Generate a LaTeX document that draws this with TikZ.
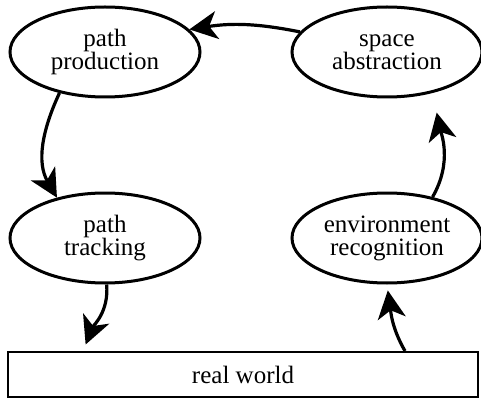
\documentclass[tikz,border=0pt]{standalone}
\usepackage{fontspec}
\setmainfont{Liberation Serif}
\usetikzlibrary{arrows.meta,shapes}

\begin{document}
\begin{tikzpicture}[node distance = 141pt, line width=1.5pt,
    every node/.style={font=\fontsize{12.5}{11.5}\selectfont, align=center},
    stage/.style={ellipse, draw=black, inner sep=0pt, minimum width=95pt, minimum height=45pt},
    flow/.style={-{Stealth[length=14pt, width=14pt, inset=4pt]}, line width=1.6pt}]
  \useasboundingbox (0,0) rectangle (240.5pt,201pt);
  \node[stage] (pp) at (52.5pt,175pt) {path\\production};
  \node[stage, right of=pp] (sa) {space\\abstraction};
  \node[stage, below of=pp, node distance=93pt] (pt) {path\\tracking};
  \node[stage, below of=sa, node distance=93pt] (er) {environment\\recognition};
  \node[rectangle, draw=black, line width=1pt, minimum width=235pt, minimum height=22.5pt, inner sep=0pt] (rw) at (121.5pt,13.75pt) {real world};

  % the loop
  \draw[flow] (sa.167) to[bend right=10] (pp.15);
  \draw[flow] (pp.222) to[out=245, in=120] (pt.140);
  \draw[flow, shorten >=3.5pt] (pt.272) to[out=-85, in=68] ([xshift=-80pt]rw.north);
  \draw[flow, shorten >=3pt] ([xshift=81pt]rw.north) to[out=120, in=-82] (er.south);
  \draw[flow, shorten >=10pt] (er.42) to[out=60, in=-78] (sa.-42);
\end{tikzpicture}
\end{document}
